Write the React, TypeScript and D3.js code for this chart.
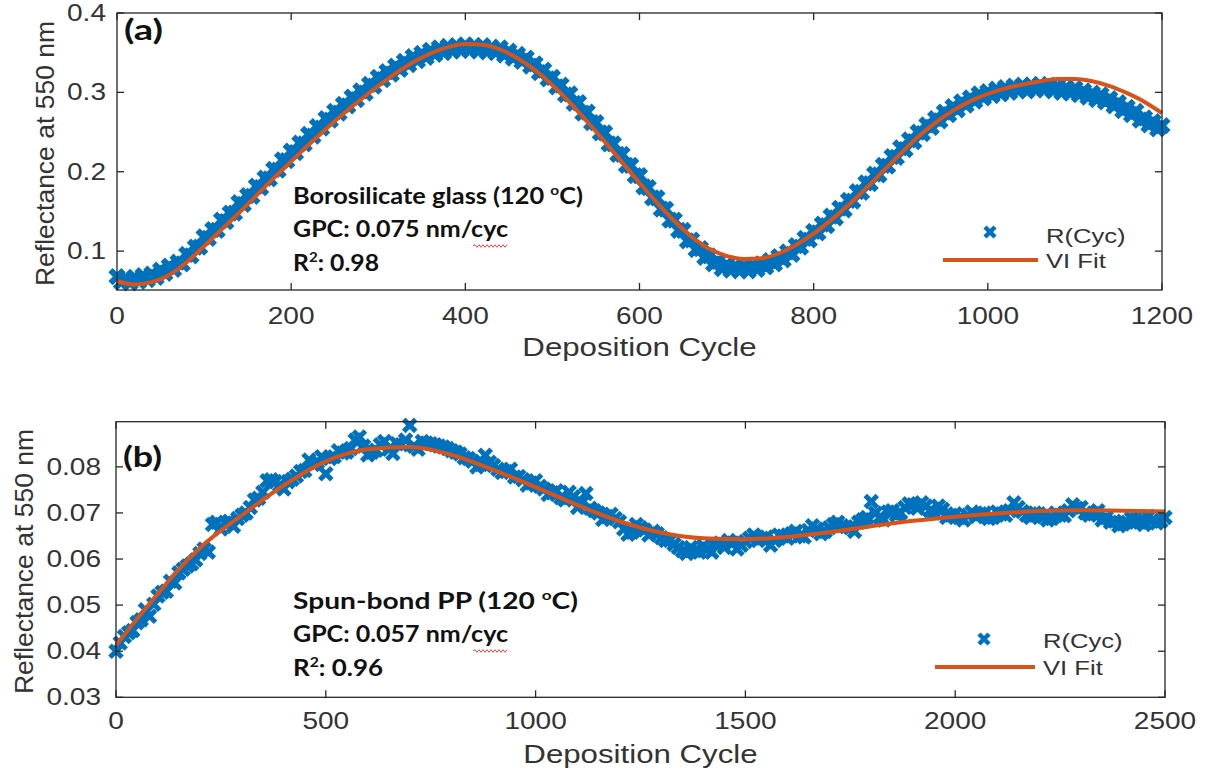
import React from 'react';
import * as d3 from 'd3';

// ---------- Data: panel (a) ----------
// upper part of the dense scatter band (every 10 cycles)
const topCycles = d3.range(0, 1201, 10);
const topReflectance = [
  0.068, 0.066, 0.067, 0.069, 0.071, 0.076, 0.081, 0.086, 0.096, 0.105,
  0.118, 0.127, 0.139, 0.148, 0.161, 0.170, 0.182, 0.192, 0.203, 0.215,
  0.226, 0.236, 0.247, 0.257, 0.267, 0.276, 0.285, 0.294, 0.302, 0.310,
  0.319, 0.326, 0.333, 0.339, 0.345, 0.349, 0.353, 0.356, 0.358, 0.359,
  0.360, 0.359, 0.359, 0.357, 0.356, 0.352, 0.348, 0.343, 0.336, 0.328,
  0.319, 0.309, 0.298, 0.287, 0.275, 0.262, 0.249, 0.235, 0.222, 0.208,
  0.195, 0.180, 0.167, 0.153, 0.139, 0.126, 0.114, 0.103, 0.094, 0.087,
  0.083, 0.081, 0.081, 0.082, 0.084, 0.088, 0.093, 0.099, 0.107, 0.116,
  0.125, 0.134, 0.144, 0.154, 0.164, 0.175, 0.186, 0.197, 0.208, 0.219,
  0.230, 0.240, 0.250, 0.259, 0.267, 0.275, 0.282, 0.288, 0.293, 0.298,
  0.301, 0.304, 0.306, 0.308, 0.309, 0.309, 0.310, 0.309, 0.308, 0.306,
  0.305, 0.302, 0.299, 0.297, 0.292, 0.287, 0.281, 0.276, 0.268, 0.263,
  0.258,
];
// lower part of the band (cycles 5, 15, ... 1195)
const topCyclesLow = d3.range(5, 1200, 10);
const topReflectanceLow = [
  0.061, 0.060, 0.062, 0.064, 0.067, 0.072, 0.077, 0.084, 0.094, 0.105,
  0.116, 0.126, 0.137, 0.148, 0.159, 0.169, 0.180, 0.191, 0.202, 0.214,
  0.224, 0.235, 0.245, 0.255, 0.265, 0.274, 0.283, 0.291, 0.299, 0.308,
  0.316, 0.323, 0.329, 0.335, 0.340, 0.344, 0.348, 0.350, 0.352, 0.353,
  0.353, 0.352, 0.351, 0.350, 0.347, 0.343, 0.339, 0.333, 0.325, 0.317,
  0.307, 0.297, 0.286, 0.274, 0.262, 0.249, 0.235, 0.222, 0.208, 0.195,
  0.181, 0.167, 0.153, 0.139, 0.126, 0.113, 0.102, 0.092, 0.084, 0.078,
  0.076, 0.075, 0.075, 0.077, 0.080, 0.084, 0.089, 0.096, 0.105, 0.114,
  0.123, 0.132, 0.142, 0.152, 0.163, 0.174, 0.185, 0.196, 0.207, 0.218,
  0.228, 0.238, 0.248, 0.256, 0.264, 0.272, 0.278, 0.284, 0.289, 0.293,
  0.296, 0.298, 0.300, 0.302, 0.302, 0.303, 0.303, 0.302, 0.300, 0.299,
  0.297, 0.294, 0.291, 0.288, 0.283, 0.277, 0.272, 0.265, 0.259, 0.254,
];
const topFitCycles = d3.range(0, 1201, 20);
const topFitValues = [
  0.062, 0.058, 0.061, 0.070, 0.086, 0.106, 0.127, 0.148, 0.170, 0.192,
  0.213, 0.234, 0.254, 0.273, 0.291, 0.308, 0.324, 0.338, 0.349, 0.357,
  0.361, 0.360, 0.354, 0.343, 0.328, 0.309, 0.287, 0.263, 0.238, 0.212,
  0.186, 0.161, 0.138, 0.118, 0.103, 0.094, 0.090, 0.091, 0.097, 0.108,
  0.122, 0.139, 0.158, 0.179, 0.201, 0.223, 0.244, 0.262, 0.277, 0.289,
  0.298, 0.305, 0.310, 0.314, 0.317, 0.317, 0.314, 0.308, 0.299, 0.288,
  0.274,
];
const topXTicks = [0, 200, 400, 600, 800, 1000, 1200];
const topYTicks = [0.1, 0.2, 0.3, 0.4];
const topYTickLabels = ['0.1', '0.2', '0.3', '0.4'];

// ---------- Data: panel (b) ----------
const botCycles = d3.range(0, 2501, 20);
const botReflectance = [
  0.0400, 0.0432, 0.0445, 0.0468, 0.0476, 0.0520, 0.0530, 0.0548, 0.0578, 0.0590,
  0.0612, 0.0615, 0.0680, 0.0678, 0.0671, 0.0695, 0.0712, 0.0732, 0.0770, 0.0768,
  0.0752, 0.0773, 0.0790, 0.0815, 0.0810, 0.0785, 0.0822, 0.0830, 0.0840, 0.0865,
  0.0826, 0.0836, 0.0855, 0.0829, 0.0848, 0.0890, 0.0838, 0.0852, 0.0848, 0.0843,
  0.0835, 0.0828, 0.0818, 0.0800, 0.0825, 0.0803, 0.0788, 0.0795, 0.0779, 0.0760,
  0.0770, 0.0752, 0.0744, 0.0733, 0.0745, 0.0712, 0.0742, 0.0705, 0.0686, 0.0697,
  0.0681, 0.0654, 0.0675, 0.0663, 0.0660, 0.0646, 0.0640, 0.0625, 0.0612, 0.0618,
  0.0628, 0.0615, 0.0635, 0.0640, 0.0622, 0.0638, 0.0652, 0.0645, 0.0630, 0.0652,
  0.0645, 0.0660, 0.0648, 0.0672, 0.0655, 0.0668, 0.0680, 0.0670, 0.0660, 0.0685,
  0.0725, 0.0690, 0.0702, 0.0695, 0.0712, 0.0718, 0.0722, 0.0705, 0.0715, 0.0690,
  0.0698, 0.0685, 0.0702, 0.0698, 0.0688, 0.0702, 0.0695, 0.0722, 0.0703, 0.0690,
  0.0698, 0.0685, 0.0700, 0.0694, 0.0718, 0.0712, 0.0695, 0.0705, 0.0690, 0.0682,
  0.0676, 0.0688, 0.0680, 0.0692, 0.0678, 0.0690,
];
// in-between readings (cycles 10, 30, ... 2490)
const botCyclesMid = d3.range(10, 2500, 20);
const botReflectanceMid = [
  0.0418, 0.0440, 0.0462, 0.0490, 0.0502, 0.0528, 0.0552, 0.0570, 0.0585, 0.0598,
  0.0622, 0.0675, 0.0665, 0.0682, 0.0688, 0.0700, 0.0728, 0.0745, 0.0772, 0.0760,
  0.0768, 0.0780, 0.0792, 0.0805, 0.0822, 0.0818, 0.0835, 0.0832, 0.0858, 0.0845,
  0.0832, 0.0848, 0.0838, 0.0850, 0.0858, 0.0845, 0.0855, 0.0850, 0.0845, 0.0840,
  0.0832, 0.0820, 0.0812, 0.0805, 0.0810, 0.0795, 0.0790, 0.0778, 0.0772, 0.0765,
  0.0758, 0.0740, 0.0748, 0.0728, 0.0735, 0.0722, 0.0710, 0.0700, 0.0692, 0.0688,
  0.0665, 0.0658, 0.0668, 0.0652, 0.0655, 0.0640, 0.0632, 0.0618, 0.0625, 0.0615,
  0.0622, 0.0630, 0.0625, 0.0635, 0.0630, 0.0645, 0.0640, 0.0648, 0.0640, 0.0650,
  0.0655, 0.0650, 0.0662, 0.0665, 0.0660, 0.0675, 0.0672, 0.0668, 0.0680, 0.0690,
  0.0700, 0.0685, 0.0705, 0.0700, 0.0720, 0.0710, 0.0715, 0.0700, 0.0708, 0.0695,
  0.0690, 0.0695, 0.0692, 0.0700, 0.0690, 0.0698, 0.0705, 0.0712, 0.0695, 0.0700,
  0.0692, 0.0688, 0.0695, 0.0705, 0.0710, 0.0700, 0.0698, 0.0685, 0.0680, 0.0672,
  0.0680, 0.0685, 0.0675, 0.0684, 0.0682,
];
const botFitCycles = [0, 50, 100, 150, 200, 300, 400, 500, 600, 700, 800, 900, 1000, 1100, 1200, 1300, 1400, 1500, 1600, 1700, 1800, 1900, 2000, 2100, 2200, 2300, 2400, 2500];
const botFitValues = [
  0.0413, 0.0470, 0.0525, 0.0578, 0.0624, 0.0695, 0.0760, 0.0812, 0.0838, 0.0843,
  0.0826, 0.0793, 0.0756, 0.0717, 0.0682, 0.0657, 0.0645, 0.0643, 0.0648, 0.0658,
  0.0671, 0.0683, 0.0692, 0.0699, 0.0704, 0.0706, 0.0705, 0.0703,
];
const botXTicks = [0, 500, 1000, 1500, 2000, 2500];
const botYTicks = [0.03, 0.04, 0.05, 0.06, 0.07, 0.08];
const botYTickLabels = ['0.03', '0.04', '0.05', '0.06', '0.07', '0.08'];

const legendLabels = ['R(Cyc)', 'VI Fit'];

// ---------- Styles ----------
const BLUE = '#0072BD';
const ORANGE = '#D95319';
const AXIS = '#262626';
const TEXT = '#333333';
const FONT = 'Liberation Sans, Arial, sans-serif';
const BOLDFONT = 'Lato, Open Sans, sans-serif';
const SX = 1.22;

function HText({ x, y, anchor = 'middle', size = 23, sx = SX, children }: any) {
  return (
    <text transform={`translate(${x},${y}) scale(${sx},1)`} textAnchor={anchor} fontSize={size} fontFamily={FONT} fill={TEXT}>
      {children}
    </text>
  );
}

function Cross({ x, y, s = 5, w = 4.2 }: any) {
  return <path d={`M${x - s},${y - s}L${x + s},${y + s}M${x - s},${y + s}L${x + s},${y - s}`} stroke={BLUE} strokeWidth={w} fill="none" />;
}

function Squiggle({ x0, x1, y }: any) {
  let d = `M${x0},${y}`;
  let up = true;
  for (let x = x0 + 2; x <= x1; x += 2) {
    d += `L${x},${y + (up ? -1.3 : 1.3)}`;
    up = !up;
  }
  return <path d={d} stroke="#e0312b" strokeWidth={0.9} fill="none" />;
}

function Panel(props: any) {
  const { left, right, top, bottom, xDomain, yDomain, xTicks, yTicks, yTickLabels, series, fitC, fitV,
    tickLabelY, yTickRight, xLabelY, yLabelX, label, labelY, notes, noteY, noteWidths, legend, ms, mw } = props;
  const x = d3.scaleLinear().domain(xDomain).range([left, right]);
  const y = d3.scaleLinear().domain(yDomain).range([bottom, top]);
  const line = d3.line<number>().x((_, i) => x(fitC[i])).y((d) => y(d)).curve(d3.curveMonotoneX);
  const tl = 7;
  return (
    <g>
      {series.map((s: any, si: number) =>
        s.cycles.map((c: number, i: number) =>
          s.values[i] === undefined ? null : (
            <Cross key={si + '-' + i} x={x(c)} y={y(s.values[i])} s={ms} w={mw} />
          )
        )
      )}
      <path d={line(fitV) || ''} stroke={ORANGE} strokeWidth={4} fill="none" strokeLinejoin="round" />
      <rect x={left} y={top} width={right - left} height={bottom - top} fill="none" stroke={AXIS} strokeWidth={1.3} />
      {xTicks.map((t: number) => (
        <g key={'xt' + t}>
          <line x1={x(t)} x2={x(t)} y1={bottom} y2={bottom - tl} stroke={AXIS} strokeWidth={1.3} />
          <line x1={x(t)} x2={x(t)} y1={top} y2={top + tl} stroke={AXIS} strokeWidth={1.3} />
          <HText x={x(t)} y={tickLabelY}>{String(t)}</HText>
        </g>
      ))}
      {yTicks.map((t: number, i: number) => (
        <g key={'yt' + t}>
          <line x1={left} x2={left + tl} y1={y(t)} y2={y(t)} stroke={AXIS} strokeWidth={1.3} />
          <line x1={right} x2={right - tl} y1={y(t)} y2={y(t)} stroke={AXIS} strokeWidth={1.3} />
          <HText x={yTickRight} y={y(t) + 8} anchor="end">{yTickLabels[i]}</HText>
        </g>
      ))}
      <HText x={(left + right) / 2} y={xLabelY} size={25} sx={1.25}>Deposition Cycle</HText>
      <text transform={`translate(${yLabelX},${(top + bottom) / 2 + 2}) rotate(-90)`} textAnchor="middle" fontSize={26.5} fontFamily={FONT} fill={TEXT}>
        Reflectance at 550 nm
      </text>
      <text x={left + 7} y={labelY} fontFamily={BOLDFONT} fontWeight={700} fontSize={28} textLength={39} lengthAdjust="spacingAndGlyphs" fill="#111">
        {label}
      </text>
      <text x={293} y={noteY} fontFamily={BOLDFONT} fontWeight={700} fontSize={23} fill="#111" textLength={noteWidths[0]} lengthAdjust="spacingAndGlyphs">
        {notes[0]}
        <tspan fontSize={14} dy={-9}>o</tspan>
        <tspan dy={9}>C)</tspan>
      </text>
      <text x={293} y={noteY + 33} fontFamily={BOLDFONT} fontWeight={700} fontSize={23} fill="#111" textLength={noteWidths[1]} lengthAdjust="spacingAndGlyphs">
        {notes[1]}
      </text>
      <Squiggle x0={473} x1={508} y={noteY + 42} />
      <text x={293} y={noteY + 67} fontFamily={BOLDFONT} fontWeight={700} fontSize={23} fill="#111" textLength={noteWidths[2]} lengthAdjust="spacingAndGlyphs">
        R<tspan fontSize={14} dy={-9}>2</tspan>
        <tspan dy={9}>{notes[2]}</tspan>
      </text>
      <Cross x={legend.mx} y={legend.my} s={5} w={4.5} />
      <HText x={legend.tx} y={legend.ty1} anchor="start" size={21}>{legendLabels[0]}</HText>
      <line x1={legend.lx0} x2={legend.lx1} y1={legend.ly} y2={legend.ly} stroke={ORANGE} strokeWidth={4} />
      <HText x={legend.tx} y={legend.ty2} anchor="start" size={21}>{legendLabels[1]}</HText>
    </g>
  );
}

export default function App() {
  return (
    <svg width={1205} height={771} style={{ position: 'absolute', left: 0, top: 0, background: '#fff' }}>
      <rect width={1205} height={771} fill="#fff" />
      <Panel
        left={117} right={1162} top={13} bottom={290}
        xDomain={[0, 1200]} yDomain={[0.051, 0.4]}
        xTicks={topXTicks} yTicks={topYTicks} yTickLabels={topYTickLabels}
        series={[{ cycles: topCyclesLow, values: topReflectanceLow }, { cycles: topCycles, values: topReflectance }]}
        fitC={topFitCycles} fitV={topFitValues}
        ms={6.5} mw={6}
        tickLabelY={324} yTickRight={106} xLabelY={356} yLabelX={54}
        label="(a)" labelY={40}
        notes={['Borosilicate glass (120 ', 'GPC: 0.075 nm/cyc', ': 0.98']}
        noteY={204} noteWidths={[290, 215, 86]}
        legend={{ mx: 990, my: 232, tx: 1046, ty1: 243, ty2: 268, lx0: 943, lx1: 1038, ly: 260 }}
      />
      <Panel
        left={116} right={1165} top={421.7} bottom={697.3}
        xDomain={[0, 2500]} yDomain={[0.03, 0.0898]}
        xTicks={botXTicks} yTicks={botYTicks} yTickLabels={botYTickLabels}
        series={[{ cycles: botCyclesMid, values: botReflectanceMid }, { cycles: botCycles, values: botReflectance }]}
        fitC={botFitCycles} fitV={botFitValues}
        ms={6} mw={5}
        tickLabelY={729} yTickRight={101} xLabelY={763} yLabelX={33}
        label="(b)" labelY={467}
        notes={['Spun-bond PP (120 ', 'GPC: 0.057 nm/cyc', ': 0.96']}
        noteY={609} noteWidths={[285, 215, 90]}
        legend={{ mx: 984, my: 639, tx: 1043, ty1: 648, ty2: 675, lx0: 935, lx1: 1035, ly: 667 }}
      />
    </svg>
  );
}
